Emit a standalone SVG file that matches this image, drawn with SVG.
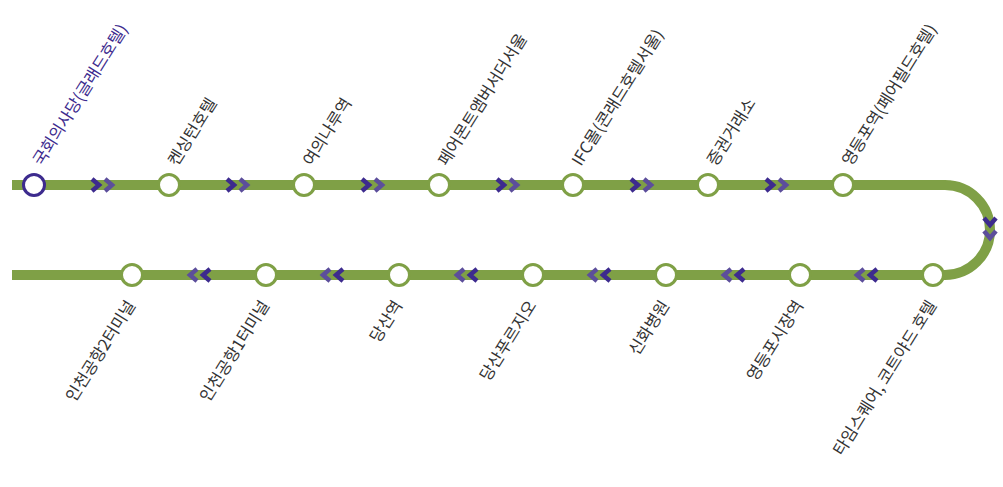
<svg xmlns="http://www.w3.org/2000/svg" width="1003" height="487" viewBox="0 0 1003 487">
<defs>
<style>
.line{fill:none;stroke:#7fa046;stroke-width:10}
.st{fill:#fff;stroke:#7fa046;stroke-width:3}
.st0{fill:#fff;stroke:#3d2b8e;stroke-width:3}
.lbl{font-family:"Noto Sans CJK KR","Noto Sans",sans-serif;font-size:16.5px;fill:#333}
.lbl0{fill:#3d2b8e}
.ch1{fill:none;stroke:#3d2b8e;stroke-width:4.5;stroke-linejoin:miter}
.ch2{fill:none;stroke:#5c4e9b;stroke-width:4.5;stroke-linejoin:miter}
</style>
<g id="chevR"><polyline class="ch1" points="-11,-6 -4,0 -11,6"/><polyline class="ch2" points="2,-6 9,0 2,6"/></g>
</defs>
<g id="connectors">
<path class="line" d="M12,185 H945 A45,45 0 0 1 945,275 H12"/>
<use href="#chevR" x="103" y="185"/>
<use href="#chevR" x="238" y="185"/>
<use href="#chevR" x="373" y="185"/>
<use href="#chevR" x="508" y="185"/>
<use href="#chevR" x="642" y="185"/>
<use href="#chevR" x="777" y="185"/>
<use href="#chevR" transform="translate(990,229) rotate(90)"/>
<use href="#chevR" transform="translate(866,275) rotate(180)"/>
<use href="#chevR" transform="translate(733,275) rotate(180)"/>
<use href="#chevR" transform="translate(599,275) rotate(180)"/>
<use href="#chevR" transform="translate(466,275) rotate(180)"/>
<use href="#chevR" transform="translate(332,275) rotate(180)"/>
<use href="#chevR" transform="translate(199,275) rotate(180)"/>
</g>
<g id="s1"><circle class="st0" cx="34" cy="185" r="10.5"/><text class="lbl lbl0" transform="translate(42,167) rotate(-58)">국회의사당(글래드호텔)</text></g>
<g id="s2"><circle class="st" cx="169" cy="185" r="10.5"/><text class="lbl" transform="translate(177,167) rotate(-58)">켄싱턴호텔</text></g>
<g id="s3"><circle class="st" cx="304" cy="185" r="10.5"/><text class="lbl" transform="translate(312,167) rotate(-58)">여의나루역</text></g>
<g id="s4"><circle class="st" cx="439" cy="185" r="10.5"/><text class="lbl" transform="translate(447,167) rotate(-58)">페어몬트앰버서더서울</text></g>
<g id="s5"><circle class="st" cx="573" cy="185" r="10.5"/><text class="lbl" transform="translate(581,167) rotate(-58)">IFC몰(콘래드호텔서울)</text></g>
<g id="s6"><circle class="st" cx="708" cy="185" r="10.5"/><text class="lbl" transform="translate(716,167) rotate(-58)">증권거래소</text></g>
<g id="s7"><circle class="st" cx="843" cy="185" r="10.5"/><text class="lbl" transform="translate(851,167) rotate(-58)">영등포역(페어필드호텔)</text></g>
<g id="s8"><circle class="st" cx="933" cy="275" r="10.5"/><text class="lbl" text-anchor="end" transform="translate(937,305) rotate(-58)">타임스퀘어, 코트야드 호텔</text></g>
<g id="s9"><circle class="st" cx="800" cy="275" r="10.5"/><text class="lbl" text-anchor="end" transform="translate(804,305) rotate(-58)">영등포시장역</text></g>
<g id="s10"><circle class="st" cx="666" cy="275" r="10.5"/><text class="lbl" text-anchor="end" transform="translate(670,305) rotate(-58)">신화병원</text></g>
<g id="s11"><circle class="st" cx="533" cy="275" r="10.5"/><text class="lbl" text-anchor="end" transform="translate(537,305) rotate(-58)">당산푸르지오</text></g>
<g id="s12"><circle class="st" cx="399" cy="275" r="10.5"/><text class="lbl" text-anchor="end" transform="translate(403,305) rotate(-58)">당산역</text></g>
<g id="s13"><circle class="st" cx="266" cy="275" r="10.5"/><text class="lbl" text-anchor="end" transform="translate(270,305) rotate(-58)">인천공항1터미널</text></g>
<g id="s14"><circle class="st" cx="132" cy="275" r="10.5"/><text class="lbl" text-anchor="end" transform="translate(136,305) rotate(-58)">인천공항2터미널</text></g>
</svg>
